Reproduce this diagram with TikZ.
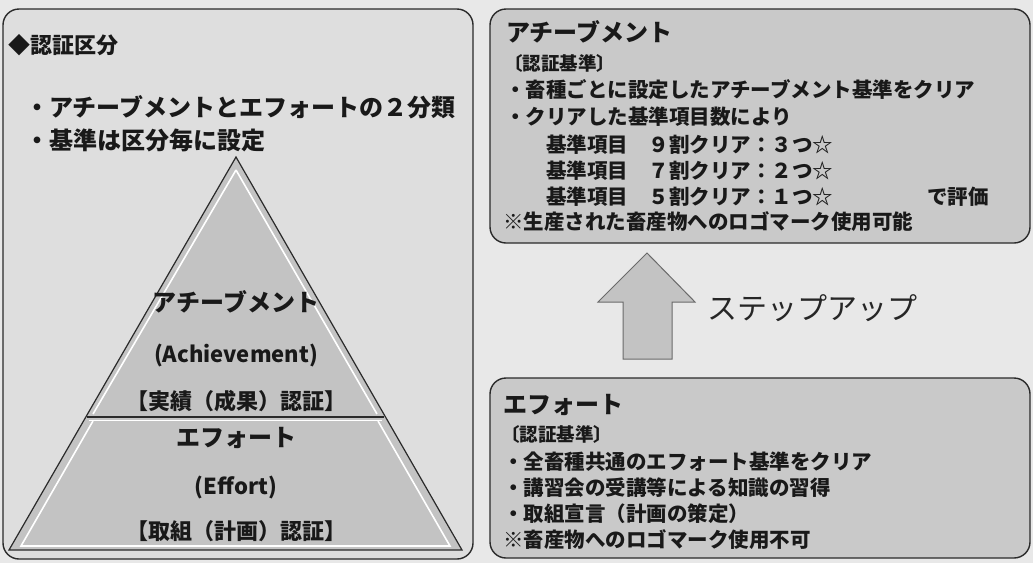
\documentclass[tikz,border=0pt]{standalone}
\usepackage{fontspec}
\setmainfont{Noto Sans CJK JP}
\definecolor{bgc}{HTML}{E8E8E8}
\definecolor{lpanel}{HTML}{DEDEDE}
\definecolor{rpanel}{HTML}{C9C9C9}
\definecolor{pyr}{HTML}{C3C3C3}
\definecolor{edge}{HTML}{2A2A2A}
\begin{document}
\begin{tikzpicture}[x=1pt,y=-1pt,
  panel/.style={draw=edge,line width=1.4pt,rounded corners=16pt},
  txt/.style={anchor=west,inner sep=0pt,font=\bfseries\fontsize{20.5}{22}\selectfont,text=black!90},
  ctr/.style={anchor=center,inner sep=0pt,font=\bfseries\fontsize{22}{24}\selectfont,text=black!90}]
\useasboundingbox (0,0) rectangle (1033,563);
\fill[bgc] (0,0) rectangle (1033,563);
% panels
\draw[panel,fill=lpanel] (3,9) rectangle (473,559);
\draw[panel,fill=rpanel] (490,9) rectangle (1030,243);
\draw[panel,fill=rpanel] (490,378) rectangle (1030,558);
% left panel text
\node[txt,font=\bfseries\fontsize{22}{24}\selectfont] (lt) at (8,45) {◆認証区分};
\node[txt,font=\bfseries\fontsize{24}{26}\selectfont] (l1) at (25,107) {・アチーブメントとエフォートの２分類};
\node[txt,font=\bfseries\fontsize{24}{26}\selectfont] (l2) at (25,140) {・基準は区分毎に設定};
% pyramid
\coordinate (apex) at (236,157);
\coordinate (bl) at (9,550);
\coordinate (br) at (462,550);
\coordinate (dl) at (87,417);
\coordinate (dr) at (384,417);
\fill[pyr] (apex) -- (br) -- (bl) -- cycle;
\draw[white,line width=1.6pt] (236,170) -- (93,414);
\draw[white,line width=1.6pt] (236,170) -- (377,414);
\draw[white,line width=1.6pt] (93,421) -- (21,546) -- (450,546) -- (378,421);
\draw[edge,line width=1.2pt,line join=miter] (apex) -- (br) -- (bl) -- cycle;
\draw[edge,line width=1.2pt] (dl) -- (dr);
\draw[white,line width=1pt] (89,420) -- (382,420);
\node[ctr,font=\bfseries\fontsize{24}{26}\selectfont] (pa1) at (236,302) {アチーブメント};
\node[ctr,font=\fontsize{22}{24}\selectfont\bfseries] (pa2) at (236,355) {(Achievement)};
\node[ctr] (pa3) at (236,401) {【実績（成果）認証】};
\node[ctr,font=\bfseries\fontsize{24}{26}\selectfont] (pe1) at (236,438) {エフォート};
\node[ctr,font=\fontsize{22}{24}\selectfont\bfseries] (pe2) at (236,487) {(Effort)};
\node[ctr] (pe3) at (236,531) {【取組（計画）認証】};
% top right panel text
\node[txt,font=\bfseries\fontsize{24}{26}\selectfont] (at) at (506,32) {アチーブメント};
\node[txt,font=\bfseries\fontsize{18.5}{20}\selectfont] (ak) at (504,63) {〔認証基準〕};
\node[txt] (a1) at (505,90) {・畜種ごとに設定したアチーブメント基準をクリア};
\node[txt] (a2) at (505,117) {・クリアした基準項目数により};
\node[txt] (a3) at (546,145) {基準項目　９割クリア：３つ☆};
\node[txt] (a4) at (546,171) {基準項目　７割クリア：２つ☆};
\node[txt] (a5) at (546,197) {基準項目　５割クリア：１つ☆};
\node[txt] (a6) at (927,197) {で評価};
\node[txt] (a7) at (503,222) {※生産された畜産物へのロゴマーク使用可能};
% arrow
\draw[edge!70,line width=1pt,fill=pyr,line join=miter] (647,253) -- (695,302) -- (672,302) -- (672,359) -- (623,359) -- (623,302) -- (598,302) -- cycle;
\node[anchor=west,inner sep=0pt,font=\fontsize{30}{32}\selectfont,text=black!85] (su) at (707,308) {ステップアップ};
% bottom right panel text
\node[txt,font=\bfseries\fontsize{24}{26}\selectfont] (et) at (503,405) {エフォート};
\node[txt,font=\bfseries\fontsize{18.5}{20}\selectfont] (ek) at (501,434) {〔認証基準〕};
\node[txt] (e1) at (503,462) {・全畜種共通のエフォート基準をクリア};
\node[txt] (e2) at (503,488) {・講習会の受講等による知識の習得};
\node[txt] (e3) at (503,514) {・取組宣言（計画の策定）};
\node[txt] (e4) at (503,540) {※畜産物へのロゴマーク使用不可};
\end{tikzpicture}
\end{document}
